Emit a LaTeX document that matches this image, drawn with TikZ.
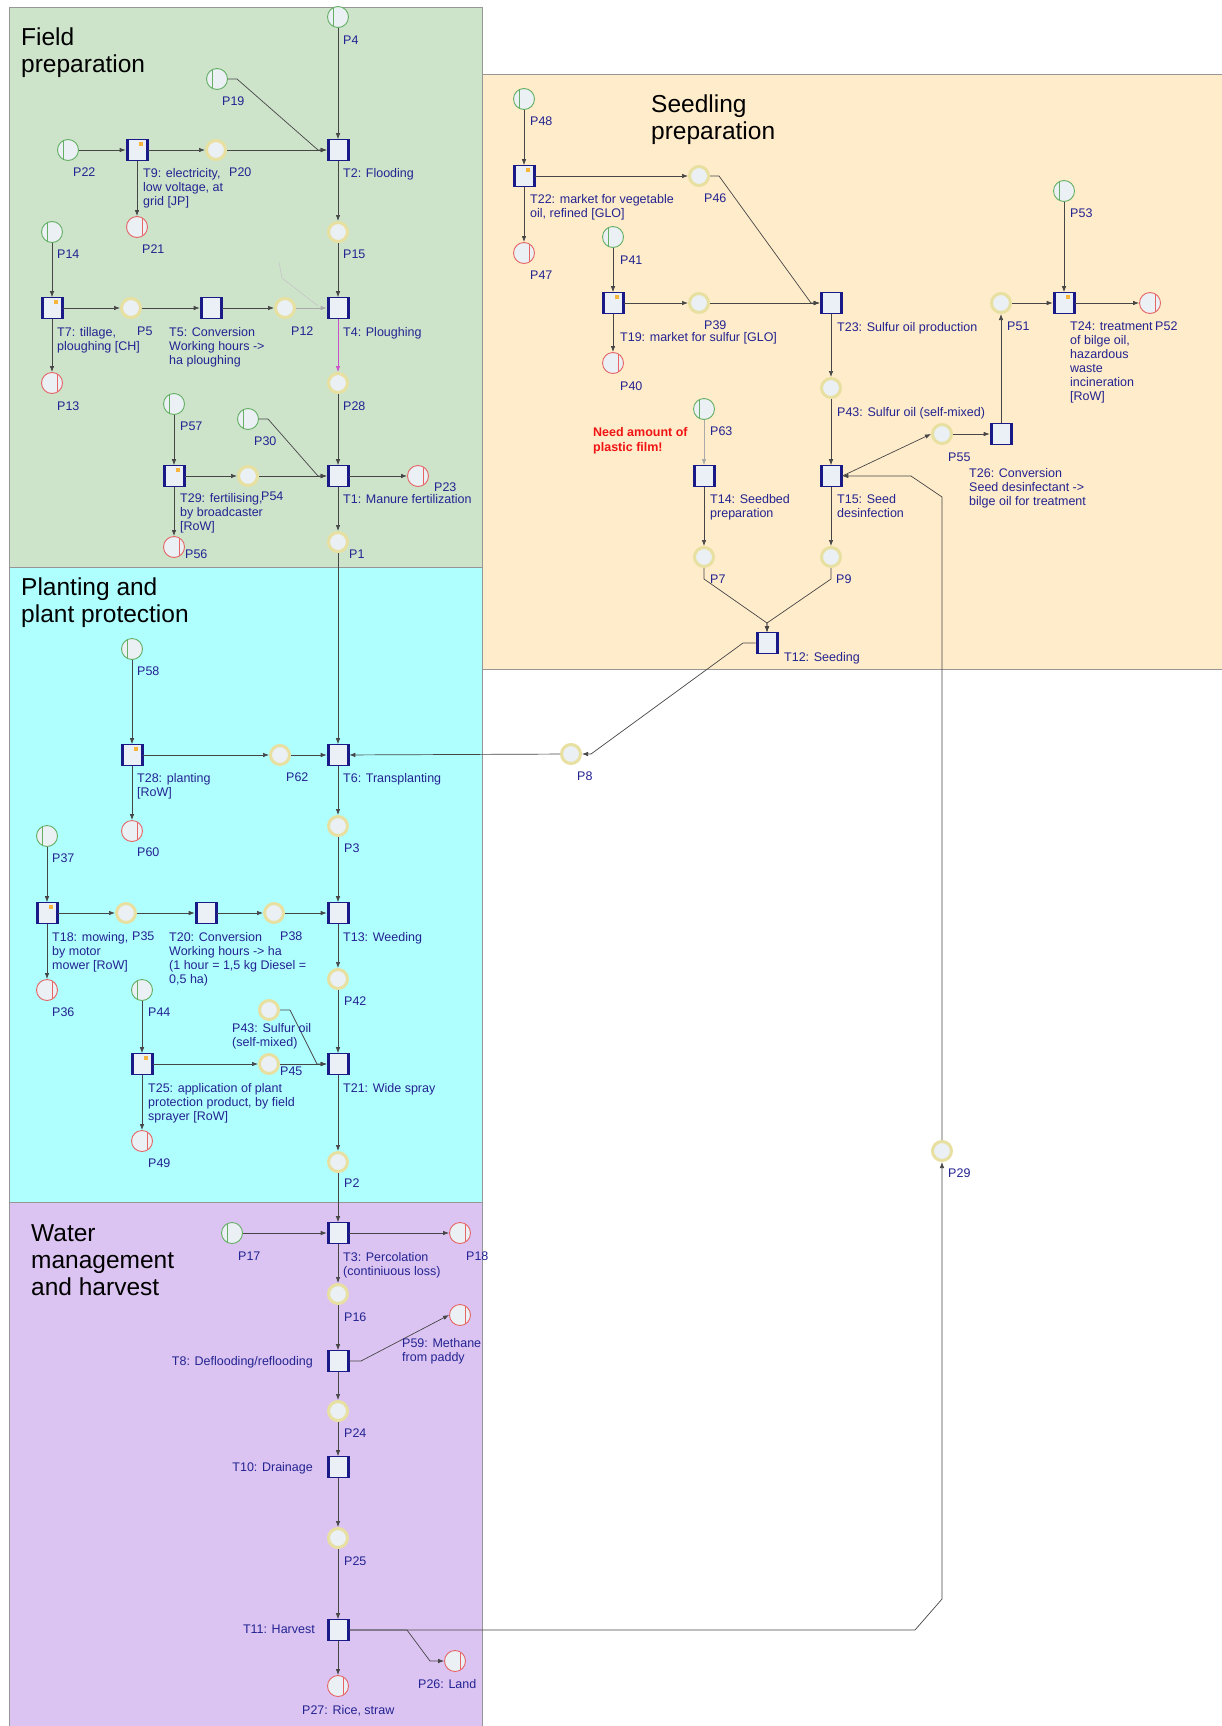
\documentclass[tikz,border=0pt]{standalone}
\usepackage{fontspec}
\setmainfont{Liberation Sans}
\usetikzlibrary{arrows.meta}
\definecolor{gfill}{RGB}{205,228,203}
\definecolor{ofill}{RGB}{255,236,202}
\definecolor{cfill}{RGB}{176,255,255}
\definecolor{lfill}{RGB}{220,196,242}
\definecolor{tblue}{RGB}{25,25,135}
\definecolor{tfill}{RGB}{234,240,246}
\definecolor{pfill}{RGB}{234,240,244}
\definecolor{srcc}{RGB}{100,175,100}
\definecolor{snkc}{RGB}{230,100,100}
\definecolor{midc}{RGB}{232,224,160}
\definecolor{lblc}{RGB}{35,35,145}
\definecolor{linec}{RGB}{70,70,70}
\definecolor{lockc}{RGB}{245,180,60}
\definecolor{panelb}{RGB}{150,150,150}
\definecolor{greyc}{RGB}{170,170,170}
\definecolor{magc}{RGB}{200,80,200}
\definecolor{redt}{RGB}{240,20,20}
\begin{document}
\begin{tikzpicture}[x=1pt,y=-1pt,
 tr/.style={rectangle,minimum width=22pt,minimum height=21pt,inner sep=0pt,draw=tblue,line width=0.6pt,fill=tfill,
   path picture={\draw[tblue,line width=5pt] (path picture bounding box.north west)--(path picture bounding box.south west) (path picture bounding box.north east)--(path picture bounding box.south east);}},
 src/.style={circle,minimum size=21pt,inner sep=0pt,draw=srcc,line width=0.9pt,fill=pfill,
   path picture={\draw[srcc,line width=0.9pt] ([xshift=-5pt]path picture bounding box.north)--([xshift=-5pt]path picture bounding box.south);}},
 snk/.style={circle,minimum size=21pt,inner sep=0pt,draw=snkc,line width=0.9pt,fill=pfill,
   path picture={\draw[snkc,line width=0.9pt] ([xshift=5pt]path picture bounding box.north)--([xshift=5pt]path picture bounding box.south);}},
 mid/.style={circle,minimum size=19pt,inner sep=0pt,draw=midc,line width=3pt,fill=pfill},
 lbl/.style={anchor=north west,inner sep=0pt,text=lblc,font=\fontsize{12.5}{14}\selectfont,align=left},
 lblr/.style={anchor=north east,inner sep=0pt,text=lblc,font=\fontsize{12.5}{14}\selectfont,align=right},
 ttl/.style={anchor=north west,inner sep=0pt,text=black,font=\fontsize{24.5}{27}\selectfont,align=left},
 flow/.style={draw=linec,line width=0.7pt,-{Latex[length=6pt,width=4.5pt]}},
 panel/.style={draw=panelb,line width=0.8pt}
]
\useasboundingbox (0,0) rectangle (1222,1726);
\fill[white] (0,0) rectangle (1222,1726);
% panels
\filldraw[panel,fill=ofill] (481,74) rectangle (1223,669);
\filldraw[panel,fill=gfill] (9,7) rectangle (482,567);
\filldraw[panel,fill=cfill] (9,567) rectangle (482,1202);
\filldraw[panel,fill=lfill] (9,1202) rectangle (482,1728);
% titles
\node[ttl] (tFP) at (21,28) {Field\\preparation};
\node[ttl] (tSP) at (651,95) {Seedling\\preparation};
\node[ttl] (tPP) at (21,578) {Planting and\\plant protection};
\node[ttl] (tWM) at (31,1224) {Water\\management\\and harvest};
% ---------- Field preparation
\node[src] (P4) at (338,17) {};
\node[src] (P19) at (217,79) {};
\node[tr] (T2) at (338,150) {};
\node[src] (P22) at (68,150) {};
\node[tr] (T9) at (137,150) {};
\node[mid] (P20) at (216,150) {};
\node[snk] (P21) at (137,227) {};
\node[mid] (P15) at (338,232) {};
\node[src] (P14) at (52,232) {};
\node[tr] (T7) at (52,308) {};
\node[mid] (P5) at (131,308) {};
\node[tr] (T5) at (211,308) {};
\node[mid] (P12) at (285,308) {};
\node[tr] (T4) at (338,308) {};
\node[mid] (P28) at (338,383) {};
\node[snk] (P13) at (52,383) {};
\node[src] (P57) at (174,404) {};
\node[src] (P30) at (248,419) {};
\node[tr] (T29) at (174,476) {};
\node[mid] (P54) at (248,476) {};
\node[tr] (T1) at (338,476) {};
\node[snk] (P23) at (418,476) {};
\node[snk] (P56) at (174,547) {};
\node[mid] (P1) at (338,542) {};
% ---------- Seedling preparation
\node[src] (P48) at (524,99) {};
\node[tr] (T22) at (524,176) {};
\node[mid] (P46) at (699,176) {};
\node[snk] (P47) at (524,253) {};
\node[src] (P41) at (613,237) {};
\node[tr] (T19) at (613,303) {};
\node[mid] (P39) at (699,303) {};
\node[snk] (P40) at (613,363) {};
\node[tr] (T23) at (831,303) {};
\node[mid] (P43) at (831,388) {};
\node[mid] (P51) at (1001,303) {};
\node[tr] (T24) at (1064,303) {};
\node[snk] (P52) at (1150,303) {};
\node[src] (P53) at (1064,191) {};
\node[src] (P63) at (704,409) {};
\node[tr] (T14) at (704,476) {};
\node[tr] (T15) at (831,476) {};
\node[mid] (P55) at (942,434) {};
\node[tr] (T26) at (1001,434) {};
\node[mid] (P7) at (704,557) {};
\node[mid] (P9) at (831,557) {};
\node[tr] (T12) at (767,643) {};
\node[mid] (P8) at (571,754) {};
\node[mid] (P29) at (942,1151) {};
% ---------- Planting
\node[src] (P58) at (132,649) {};
\node[tr] (T28) at (132,755) {};
\node[mid] (P62) at (280,755) {};
\node[tr] (T6) at (338,755) {};
\node[snk] (P60) at (132,831) {};
\node[mid] (P3) at (338,826) {};
\node[src] (P37) at (47,836) {};
\node[tr] (T18) at (47,913) {};
\node[mid] (P35) at (126,913) {};
\node[tr] (T20) at (206,913) {};
\node[mid] (P38) at (274,913) {};
\node[tr] (T13) at (338,913) {};
\node[mid] (P42) at (338,979) {};
\node[snk] (P36) at (47,990) {};
\node[src] (P44) at (142,990) {};
\node[mid] (P43b) at (269,1010) {};
\node[tr] (T25) at (142,1064) {};
\node[mid] (P45) at (269,1064) {};
\node[tr] (T21) at (338,1064) {};
\node[snk] (P49) at (142,1141) {};
\node[mid] (P2) at (338,1162) {};
% ---------- Water management
\node[src] (P17) at (232,1233) {};
\node[tr] (T3) at (338,1233) {};
\node[snk] (P18) at (460,1233) {};
\node[mid] (P16) at (338,1294) {};
\node[snk] (P59) at (460,1315) {};
\node[tr] (T8) at (338,1361) {};
\node[mid] (P24) at (338,1411) {};
\node[tr] (T10) at (338,1467) {};
\node[mid] (P25) at (338,1538) {};
\node[tr] (T11) at (338,1630) {};
\node[snk] (P26) at (455,1661) {};
\node[snk] (P27) at (338,1686) {};
% lock marks
\foreach \n in {T9,T7,T29,T22,T19,T24,T28,T18,T25}
  \fill[lockc] ([shift={(-9,3)}]\n.north east) rectangle +(4,4);
% ---------- connectors
\draw[flow] (P4)--(T2);
\draw[flow] (P19.east)--(237,79)--(318,150)--(T2.west);
\draw[flow] (P22)--(T9);
\draw[flow] (T9)--(P20);
\draw[flow] (P20)--(T2);
\draw[flow] (T9)--(P21);
\draw[flow] (T2)--(P15);
\draw[flow] (P15)--(T4);
\draw[flow] (P14)--(T7);
\draw[flow] (T7)--(P5);
\draw[flow] (P5)--(T5);
\draw[flow] (T5)--(P12);
\draw[flow,draw=greyc] (P12)--(T4);
\draw[greyc!70,line width=0.5pt] (279,262)--(282,278)--(318,306);
\draw[flow] (T7)--(P13);
\draw[flow,draw=magc] (T4)--(P28);
\draw[flow] (P28)--(T1);
\draw[flow] (P57)--(T29);
\draw[flow] (T29)--(P54);
\draw[flow] (P54)--(T1);
\draw[flow] (P30.east)--(268,419)--(318,476)--(T1.west);
\draw[flow] (T1)--(P23);
\draw[flow] (T29)--(P56);
\draw[flow] (T1)--(P1);
\draw[flow] (P1)--(T6);
\draw[flow] (P48)--(T22);
\draw[flow] (T22)--(P46);
\draw[flow] (T22)--(P47);
\draw[flow] (P46.east)--(719,176)--(811,303)--(T23.west);
\draw[flow] (P41)--(T19);
\draw[flow] (T19)--(P39);
\draw[flow] (T19)--(P40);
\draw[flow] (P39)--(T23);
\draw[flow] (T23)--(P43);
\draw[flow] (P43)--(T15);
\draw[flow] (T15.east)--(P55.west);
\draw[flow] (P55)--(T26);
\draw[flow] (T26)--(P51);
\draw[flow] (P51)--(T24);
\draw[flow] (P53)--(T24);
\draw[flow] (T24)--(P52);
\draw[flow,draw=greyc] (P63)--(T14);
\draw[flow] (T14)--(P7);
\draw[flow] (T15)--(P9);
\draw[flow] (P7.south)--(704,579)--(767,623)--(T12.north);
\draw[flow] (P9.south)--(831,579)--(767,623)--(T12.north);
\draw[flow] (T12.west)--(743,643)--(591,754)--(P8.east);
\draw[flow] (P8)--(T6);
\draw[flow] (T11.east)--(915,1630)--(942,1599)--(P29.south);
\draw[flow] (P29.north)--(942,497)--(911,476)--(T15.east);
\draw[flow] (P58)--(T28);
\draw[flow] (T28)--(P62);
\draw[flow] (P62)--(T6);
\draw[flow] (T28)--(P60);
\draw[flow] (T6)--(P3);
\draw[flow] (P3)--(T13);
\draw[flow] (P37)--(T18);
\draw[flow] (T18)--(P35);
\draw[flow] (P35)--(T20);
\draw[flow] (T20)--(P38);
\draw[flow] (P38)--(T13);
\draw[flow] (T18)--(P36);
\draw[flow] (T13)--(P42);
\draw[flow] (P42)--(T21);
\draw[flow] (P44)--(T25);
\draw[flow] (T25)--(P45);
\draw[flow] (P45)--(T21);
\draw[flow] (P43b.east)--(290,1010)--(317,1064)--(T21.west);
\draw[flow] (T25)--(P49);
\draw[flow] (T21)--(P2);
\draw[flow] (P2)--(T3);
\draw[flow] (P17)--(T3);
\draw[flow] (T3)--(P18);
\draw[flow] (T3)--(P16);
\draw[flow] (P16)--(T8);
\draw[flow] (T8.east)--(361,1361)--(P59.west);
\draw[flow] (T8)--(P24);
\draw[flow] (P24)--(T10);
\draw[flow] (T10)--(P25);
\draw[flow] (P25)--(T11);
\draw[flow] (T11)--(P27);
\draw[flow] (T11.east)--(407,1630)--(430,1661)--(P26.west);
% ---------- labels
\node[lbl] (lP4) at (343,36) {P4};
\node[lbl] (lP19) at (222,97) {P19};
\node[lbl] (lT2) at (343,168) {T2: Flooding};
\node[lbl] (lP22) at (73,168) {P22};
\node[lbl] (lT9) at (143,168) {T9: electricity,\\low voltage, at\\grid [JP]};
\node[lbl] (lP20) at (229,168) {P20};
\node[lbl] (lP21) at (142,245) {P21};
\node[lbl] (lP15) at (343,250) {P15};
\node[lbl] (lP14) at (57,250) {P14};
\node[lbl] (lT7) at (57,327) {T7: tillage,\\ploughing [CH]};
\node[lbl] (lP5) at (137,327) {P5};
\node[lbl] (lT5) at (169,327) {T5: Conversion\\Working hours ->\\ha ploughing};
\node[lbl] (lP12) at (291,327) {P12};
\node[lbl] (lT4) at (343,327) {T4: Ploughing};
\node[lbl] (lP13) at (57,402) {P13};
\node[lbl] (lP28) at (343,402) {P28};
\node[lbl] (lP57) at (180,422) {P57};
\node[lbl] (lP30) at (254,437) {P30};
\node[lbl] (lT29) at (180,493) {T29: fertilising,\\by broadcaster\\{}[RoW]};
\node[lbl] (lP54) at (261,492) {P54};
\node[lbl] (lT1) at (343,494) {T1: Manure fertilization};
\node[lbl] (lP23) at (434,483) {P23};
\node[lbl] (lP56) at (185,550) {P56};
\node[lbl] (lP1) at (349,550) {P1};
\node[lbl] (lP48) at (530,117) {P48};
\node[lbl] (lT22) at (530,194) {T22: market for vegetable\\oil, refined [GLO]};
\node[lbl] (lP46) at (704,194) {P46};
\node[lbl] (lP47) at (530,271) {P47};
\node[lbl] (lP41) at (620,256) {P41};
\node[lbl] (lT19) at (620,332) {T19: market for sulfur [GLO]};
\node[lbl] (lP39) at (704,321) {P39};
\node[lbl] (lP40) at (620,382) {P40};
\node[lbl] (lT23) at (837,322) {T23: Sulfur oil production};
\node[lbl] (lP43) at (837,407) {P43: Sulfur oil (self-mixed)};
\node[lbl] (lP51) at (1007,322) {P51};
\node[lbl] (lT24) at (1070,322) {T24: treatment\\of bilge oil,\\hazardous\\waste\\incineration\\{}[RoW]};
\node[lbl] (lP52) at (1155,322) {P52};
\node[lbl] (lP53) at (1070,209) {P53};
\node[lbl] (lP63) at (710,427) {P63};
\node[anchor=north west,inner sep=0pt,text=redt,font=\bfseries\fontsize{12.5}{15}\selectfont,align=left] (note) at (593,427) {Need amount of\\plastic film!};
\node[lbl] (lT14) at (710,494) {T14: Seedbed\\preparation};
\node[lbl] (lT15) at (837,494) {T15: Seed\\desinfection};
\node[lbl] (lP55) at (948,453) {P55};
\node[lbl] (lT26) at (969,468) {T26: Conversion\\Seed desinfectant ->\\bilge oil for treatment};
\node[lbl] (lP7) at (710,575) {P7};
\node[lbl] (lP9) at (836,575) {P9};
\node[lbl] (lT12) at (784,652) {T12: Seeding};
\node[lbl] (lP8) at (577,772) {P8};
\node[lbl] (lP29) at (948,1169) {P29};
\node[lbl] (lP58) at (137,667) {P58};
\node[lbl] (lT28) at (137,773) {T28: planting\\{}[RoW]};
\node[lbl] (lP62) at (286,773) {P62};
\node[lbl] (lT6) at (343,773) {T6: Transplanting};
\node[lbl] (lP60) at (137,848) {P60};
\node[lbl] (lP3) at (344,844) {P3};
\node[lbl] (lP37) at (52,854) {P37};
\node[lbl] (lT18) at (52,932) {T18: mowing,\\by motor\\mower [RoW]};
\node[lbl] (lP35) at (132,932) {P35};
\node[lbl] (lT20) at (169,932) {T20: Conversion\\Working hours -> ha\\(1 hour = 1,5 kg Diesel =\\0,5 ha)};
\node[lbl] (lP38) at (280,932) {P38};
\node[lbl] (lT13) at (343,932) {T13: Weeding};
\node[lbl] (lP42) at (344,997) {P42};
\node[lbl] (lP36) at (52,1008) {P36};
\node[lbl] (lP44) at (148,1008) {P44};
\node[lbl] (lP43b) at (232,1023) {P43: Sulfur oil\\(self-mixed)};
\node[lbl] (lT25) at (148,1083) {T25: application of plant\\protection product, by field\\sprayer [RoW]};
\node[lbl] (lP45) at (280,1067) {P45};
\node[lbl] (lT21) at (343,1083) {T21: Wide spray};
\node[lbl] (lP49) at (148,1159) {P49};
\node[lbl] (lP2) at (344,1179) {P2};
\node[lbl] (lP17) at (238,1252) {P17};
\node[lbl] (lT3) at (343,1252) {T3: Percolation\\(continiuous loss)};
\node[lbl] (lP18) at (466,1252) {P18};
\node[lbl] (lP16) at (344,1313) {P16};
\node[lbl] (lP59) at (402,1338) {P59: Methane\\from paddy};
\node[lblr] (lT8) at (313,1356) {T8: Deflooding/reflooding};
\node[lbl] (lP24) at (344,1429) {P24};
\node[lblr] (lT10) at (313,1462) {T10: Drainage};
\node[lbl] (lP25) at (344,1557) {P25};
\node[lblr] (lT11) at (315,1625) {T11: Harvest};
\node[lbl] (lP26) at (418,1679) {P26: Land};
\node[lbl] (lP27) at (302,1705) {P27: Rice, straw};
\end{tikzpicture}
\end{document}
